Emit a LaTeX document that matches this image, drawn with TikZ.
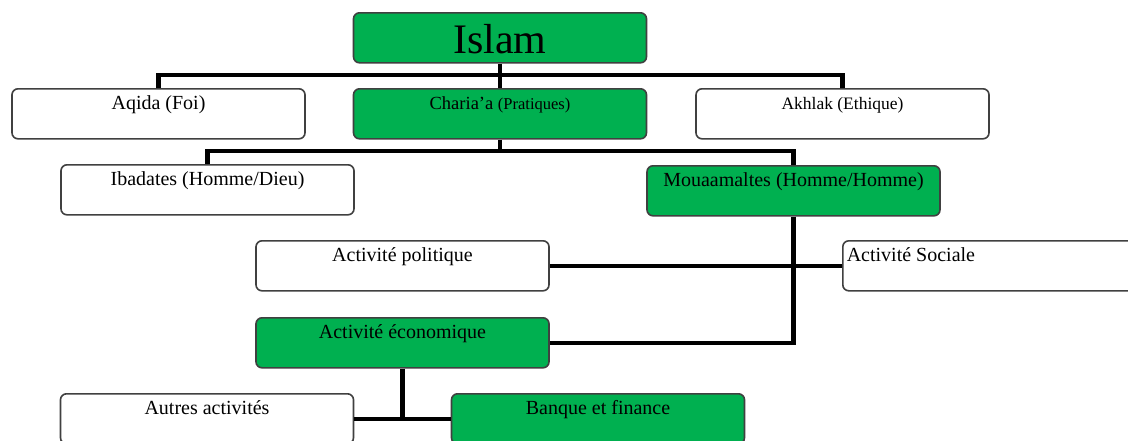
\documentclass[tikz,border=0pt]{standalone}
\usepackage{fontspec}
\setmainfont{Liberation Serif}
\definecolor{boxgreen}{RGB}{0,176,80}
\definecolor{boxedge}{RGB}{64,64,64}
\begin{document}
\begin{tikzpicture}[x=1pt,y=-1pt,
  box/.style={draw=boxedge, line width=1.6pt, rounded corners=6pt, fill=white,
    minimum width=293pt, inner xsep=0pt, inner ysep=0pt,
    text height=20.5pt, text depth=29.5pt, anchor=north,
    font=\fontsize{20}{24}\selectfont},
  greenbox/.style={fill=boxgreen},
  link/.style={line width=4.5pt, black}]
\clip (0,0) rectangle (1128,440);
\fill[white] (0,0) rectangle (1128,440);

% connector junctions
\coordinate (bus1) at (500,75);
\coordinate (bus2) at (500,151);

% boxes
\node[box,greenbox,text height=41pt,text depth=9pt,font=\fontsize{42}{46}\selectfont] (islam) at (500,12) {Islam};
\node[box] (aqida) at (158.5,88) {Aqida (Foi)};
\node[box,greenbox,font=\fontsize{18.5}{22}\selectfont] (charia) at (500,88) {Charia'a {\fontsize{16.5}{20}\selectfont(Pratiques)}};
\node[box,font=\fontsize{17.5}{21}\selectfont] (akhlak) at (842.5,88) {Akhlak (Ethique)};
\node[box] (ibadates) at (207.5,164) {Ibadates (Homme/Dieu)};
\node[box,greenbox] (mouaa) at (793.5,165) {Mouaamaltes (Homme/Homme)};
\node[box] (politique) at (402.5,240) {Activité politique};
\node[box,anchor=north west,inner xsep=4pt] (sociale) at (842,240) {\makebox[292pt][l]{Activité Sociale}};
\node[box,greenbox] (eco) at (402.5,317) {Activité économique};
\node[box] (autres) at (207,393) {Autres activités};
\node[box,greenbox] (banque) at (598,393) {Banque et finance};

% connectors
\draw[link] (aqida.north) |- (bus1) -| (akhlak.north);
\draw[link] (islam.south) -- (charia.north);
\draw[link] (ibadates.north) |- (bus2) -| (mouaa.north);
\draw[link] (charia.south) -- (bus2);
\draw[link] (mouaa.south) |- (eco.east);
\draw[link,line width=3.5pt] (politique.east) -- (sociale.west);
\draw[link] (autres.east) -- (banque.west);
\draw[link] (eco.south) -- (eco.south |- autres.east);
\end{tikzpicture}
\end{document}
